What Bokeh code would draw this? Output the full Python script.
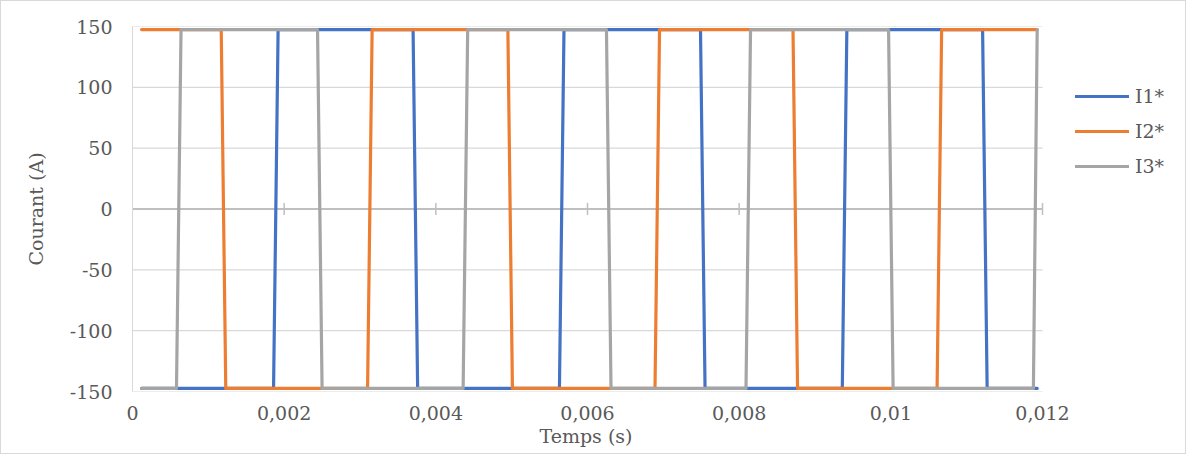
from bokeh.plotting import figure
from bokeh.models import Range1d, FixedTicker, Legend, LegendItem, Title
from bokeh.embed import file_html
from bokeh.resources import INLINE

# ---- data (time in s, current in A) ----
t_I1 = [0.00012, 0.00186, 0.00192, 0.00370, 0.00376, 0.00563, 0.00569,
        0.00749, 0.00755, 0.00936, 0.00942, 0.01121, 0.01127, 0.01193]
I1 = [-147.5, -147.5, 147.5, 147.5, -147.5, -147.5, 147.5,
      147.5, -147.5, -147.5, 147.5, 147.5, -147.5, -147.5]

t_I2 = [0.00012, 0.00117, 0.00123, 0.00310, 0.00316, 0.00495, 0.00501,
        0.00689, 0.00695, 0.00871, 0.00877, 0.01061, 0.01067, 0.01193]
I2 = [147.5, 147.5, -147.5, -147.5, 147.5, 147.5, -147.5,
      -147.5, 147.5, 147.5, -147.5, -147.5, 147.5, 147.5]

t_I3 = [0.00012, 0.00058, 0.00064, 0.00244, 0.00250, 0.00436, 0.00442,
        0.00625, 0.00631, 0.00809, 0.00815, 0.00997, 0.01003, 0.01188, 0.01193]
I3 = [-147.5, -147.5, 147.5, 147.5, -147.5, -147.5, 147.5,
      147.5, -147.5, -147.5, 147.5, 147.5, -147.5, -147.5, 147.5]

series_names = ["I1*", "I2*", "I3*"]
x_ticks = [0, 0.002, 0.004, 0.006, 0.008, 0.010, 0.012]
x_tick_labels = ["0", "0,002", "0,004", "0,006", "0,008", "0,01", "0,012"]
y_ticks = [-150, -100, -50, 0, 50, 100, 150]
y_tick_labels = ["-150", "-100", "-50", "0", "50", "100", "150"]
x_title = "Temps (s)"
y_title = "Courant (A)"

FONT = "DejaVu Serif"
TXT = "#595959"
colors = ["#4472C4", "#ED7D31", "#A5A5A5"]

# layout (pixels)
W, H = 1186, 454
BL, BT, BR, BB = 131, 25, 0, 64
PLOT_PX = 910                      # width of the plotting area in the reference
FRAME_PX = W - BL - BR             # frame extends under the legend area
x_min, x_max = x_ticks[0], x_ticks[-1]
x_end = x_min + (x_max - x_min) * FRAME_PX / PLOT_PX

p = figure(width=W, height=H, output_backend="svg", toolbar_location=None,
           x_range=Range1d(x_min, x_end), y_range=Range1d(y_ticks[0], y_ticks[-1]),
           min_border_left=BL, min_border_top=BT, min_border_right=BR,
           min_border_bottom=BB)
p.outline_line_color = None
p.background_fill_color = "white"
p.border_fill_color = "white"
p.styles = {"border": "1px solid #d9d9d9"}

# grid lines limited to the plotting area
p.xgrid.visible = False
p.ygrid.visible = False
p.segment(x0=[x_min] * len(y_ticks), y0=y_ticks, x1=[x_max] * len(y_ticks), y1=y_ticks,
          line_color="#d9d9d9", line_width=1.2)
# horizontal axis line at zero with crossing tick marks
p.segment(x0=[x_min], y0=[0], x1=[x_max], y1=[0], line_color="#bfbfbf", line_width=2)
p.segment(x0=x_ticks[1:], y0=[-5] * 6, x1=x_ticks[1:], y1=[5] * 6,
          line_color="#bfbfbf", line_width=1.5)

# x axis (labels at bottom)
p.xaxis.ticker = FixedTicker(ticks=x_ticks)
p.xaxis.major_label_overrides = {t: l for t, l in zip(x_ticks, x_tick_labels)}
p.xaxis.axis_line_color = None
p.xaxis.major_tick_line_color = None
p.xaxis.minor_tick_line_color = None
p.xaxis.major_tick_in = 0
p.xaxis.major_tick_out = 0
p.xaxis.major_label_standoff = 14
p.xaxis.major_label_text_font = FONT
p.xaxis.major_label_text_font_size = "19px"
p.xaxis.major_label_text_color = TXT

# x axis title, centred under the plotting area (not under the legend area)
p.add_layout(Title(text=x_title, align="left", offset=407, standoff=0,
                   text_font=FONT, text_font_size="19px", text_font_style="normal",
                   text_color=TXT), "below")

# y axis
p.yaxis.ticker = FixedTicker(ticks=y_ticks)
p.yaxis.major_label_overrides = {t: l for t, l in zip(y_ticks, y_tick_labels)}
p.yaxis.axis_line_color = "#d9d9d9"
p.yaxis.major_tick_line_color = None
p.yaxis.minor_tick_line_color = None
p.yaxis.major_tick_in = 0
p.yaxis.major_tick_out = 0
p.yaxis.major_label_standoff = 20
p.yaxis.major_label_text_font = FONT
p.yaxis.major_label_text_font_size = "19px"
p.yaxis.major_label_text_color = TXT
p.yaxis.axis_label = y_title
p.yaxis.axis_label_standoff = 20
p.yaxis.axis_label_text_font = FONT
p.yaxis.axis_label_text_font_size = "19px"
p.yaxis.axis_label_text_font_style = "normal"
p.yaxis.axis_label_text_color = TXT

renderers = []
for tt, vv, c in zip([t_I1, t_I2, t_I3], [I1, I2, I3], colors):
    r = p.line(tt, vv, line_color=c, line_width=3.2, line_cap="round", line_join="round")
    renderers.append(r)

legend = Legend(items=[LegendItem(label=n, renderers=[r]) for n, r in zip(series_names, renderers)],
                location=(943, 214), margin=0, padding=0, spacing=13,
                glyph_width=54, glyph_height=20, label_height=20, label_standoff=6,
                label_text_font=FONT, label_text_font_size="19px", label_text_color=TXT,
                border_line_color=None, background_fill_alpha=0)
p.add_layout(legend)

open("out.html", "w").write(file_html(p, INLINE))
